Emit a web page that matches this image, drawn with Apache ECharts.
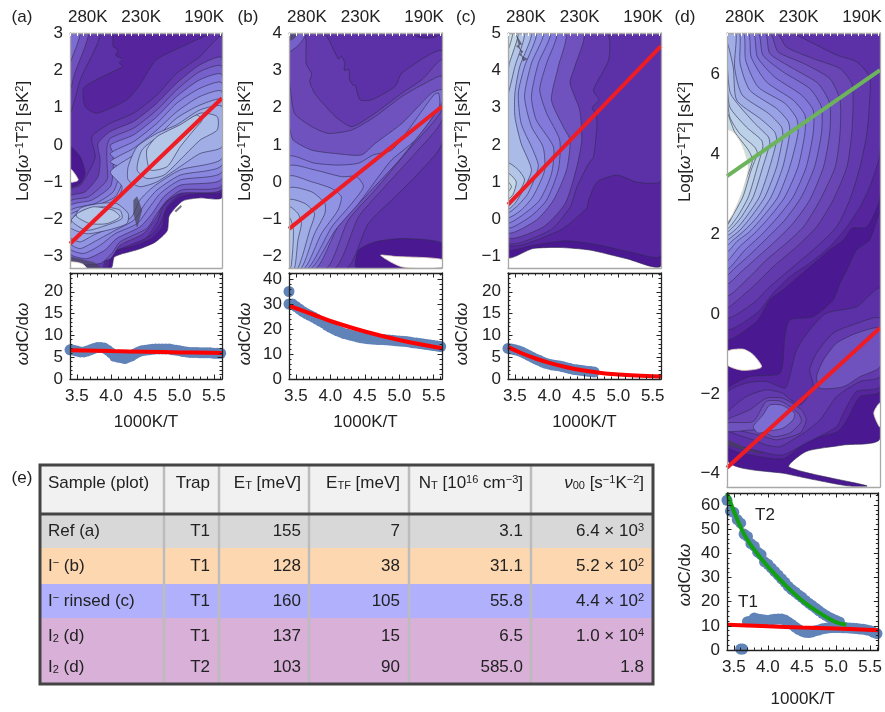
<!DOCTYPE html>
<html><head><meta charset="utf-8"><style>html,body{margin:0;padding:0;background:#fff}#c{width:885px;height:712px}</style>
<script src="https://cdn.jsdelivr.net/npm/echarts@6/dist/echarts.min.js"></script></head><body><div id="c"></div>
<script>
// ---------- contour regions, in axis units (1000K/T, Log) ----------
const aContours=[
[[3.4,3],[5.62,3],[5.62,-1.4],[5.3,-1.42],[5.05,-1.5],[4.85,-1.9],[4.82,-2.3],[4.65,-2.6],[4.4,-2.8],[4.05,-3.0],[4.0,-3.3],[3.4,-3.3]],
[[3.4,3],[5.62,3],[5.62,-1.25],[5.3,-1.3],[5.0,-1.4],[4.8,-1.75],[4.75,-2.2],[4.6,-2.5],[4.35,-2.7],[4.0,-2.9],[3.95,-3.3],[3.4,-3.3]],
[[3.4,3],[4.01,3],[4.03,2.64],[4.1,2.55],[4.07,2.4],[4.17,2.3],[4.12,2.2],[4.17,2.1],[3.83,1.79],[3.6,1.52],[3.62,1.03],[3.79,.85],[4.23,1.21],[4.42,1.61],[4.66,2.28],[5.1,2.69],[5.49,3],[5.62,3],[5.62,-1.15],[5.3,-1.2],[5.03,-1.3],[4.82,-1.65],[4.72,-2.1],[4.58,-2.42],[4.33,-2.62],[3.97,-2.8],[3.9,-3.3],[3.4,-3.3]],
[[3.4,3],[3.84,3],[3.55,1.75],[3.47,1.21],[3.4,.85]],
[[3.4,3],[3.67,3],[3.47,1.92],[3.4,1.48]],
[[3.4,3],[3.55,3],[3.42,2.28],[3.4,2.2]],
[[5.62,2.91],[5.3,2.37],[4.96,1.92],[4.67,1.34],[4.33,.85],[3.99,.58],[3.72,.22],[3.77,-.32],[3.69,-.67],[3.55,-1.08],[3.4,-1.21],[3.4,-3.3],[3.87,-3.3],[3.94,-2.95],[4.28,-2.68],[4.52,-2.48],[4.68,-2.05],[4.78,-1.6],[5.03,-1.27],[5.3,-1.18],[5.62,-1.12]],
[[5.62,2.33],[5.3,2.15],[4.96,1.66],[4.67,1.12],[4.33,.63],[3.99,.36],[3.81,.04],[3.84,-.4],[3.81,-.85],[3.62,-1.26],[3.4,-1.39],[3.4,-3.0],[3.75,-3.15],[3.99,-3.05],[4.13,-2.69],[4.47,-2.38],[4.67,-1.93],[4.77,-1.57],[5.01,-1.3],[5.62,-1.17]],
[[5.62,2.1],[5.3,1.97],[4.96,1.48],[4.67,.94],[4.33,.45],[3.99,.18],[3.94,-.05],[3.94,-.49],[3.94,-.94],[3.67,-1.39],[3.4,-1.52],[3.4,-3.14],[3.84,-3.18],[4.01,-2.91],[4.13,-2.6],[4.52,-2.24],[4.67,-1.84],[4.82,-1.48],[5.03,-1.21],[5.62,-1.08]],
[[5.62,1.88],[5.3,1.75],[4.96,1.3],[4.67,.76],[4.33,.27],[3.99,0],[4.03,-.23],[4.03,-.67],[3.99,-1.12],[3.72,-1.48],[3.4,-1.64],[3.4,-2.91],[3.64,-3.05],[3.91,-2.82],[4.08,-2.51],[4.42,-2.2],[4.6,-1.84],[4.77,-1.39],[5.01,-1.08],[5.62,-.9]],
[[5.62,1.66],[5.3,1.52],[4.96,1.12],[4.67,.58],[4.33,.09],[3.99,-.23],[4.11,-.49],[4.11,-.85],[4.03,-1.26],[3.77,-1.57],[3.4,-1.77],[3.4,-2.78],[3.6,-2.91],[3.84,-2.69],[4.06,-2.38],[4.38,-2.11],[4.55,-1.7],[4.72,-1.3],[5.01,-.94],[5.62,-.72]],
[[5.62,1.43],[5.3,1.3],[4.96,.89],[4.67,.4],[4.33,-.09],[3.99,-.45],[4.18,-.67],[4.16,-1.03],[4.06,-1.39],[3.81,-1.61],[3.4,-1.88],[3.4,-2.64],[3.55,-2.78],[3.79,-2.56],[4.06,-2.29],[4.33,-2.02],[4.5,-1.57],[4.67,-1.21],[5.01,-.81],[5.62,-.54]],
[[5.62,1.21],[5.3,1.07],[4.96,.72],[4.67,.22],[4.33,-.27],[3.99,-.72],[4.16,-1.12],[4.08,-1.48],[3.84,-1.66],[3.4,-2.02],[3.4,-2.47],[3.55,-2.6],[3.74,-2.42],[4.08,-2.15],[4.3,-1.93],[4.42,-1.48],[4.62,-1.12],[5.01,-.67],[5.62,-.36]],
[[5.62,1.03],[5.3,.94],[4.96,.54],[4.67,.31],[4.38,-.05],[4.25,-.58],[4.25,-.94],[4.42,-1.12],[4.67,-.99],[5.01,-.58],[5.3,-.23],[5.62,-.05]],
[[3.4,-2.2],[3.55,-1.7],[3.84,-1.57],[4.08,-1.57],[4.25,-1.84],[4.23,-2.11],[3.94,-2.29],[3.64,-2.38]],
[[5.55,.76],[5.3,.85],[4.96,.45],[4.69,.22],[4.45,-.14],[4.38,-.67],[4.52,-.9],[4.77,-.81],[5.03,-.36],[5.3,.13],[5.55,.4]],
[[3.42,-2.02],[3.6,-1.75],[3.89,-1.66],[4.13,-1.75],[4.16,-1.97],[3.94,-2.15],[3.64,-2.29]],
[[5.33,.67],[5.25,.8],[5.01,.54],[4.67,.22],[4.52,-.14],[4.57,-.67],[4.82,-.58],[5.01,-.05],[5.21,.4]],
[[3.5,-1.84],[3.74,-1.66],[4.03,-1.75],[4.13,-1.93],[3.94,-2.11],[3.69,-2.11],[3.5,-1.93]],
[[3.4,-.05],[3.55,-.32],[3.62,-.76],[3.55,-1.03],[3.4,-1.12]]
];
const aLevels=[0,1,2,3,5,7,3,5,6,8,9,10,11,12,12,13,13,14,14,0];
const aHoles=[[[3.4,-.63],[3.52,-.94],[3.4,-.99]],[[3.4,-3.14],[3.57,-3.18],[3.64,-3.3],[3.4,-3.3]]];
const aStreaks=[[[4.33,-1.48],[4.38,-1.39],[4.45,-1.75],[4.38,-2.2],[4.33,-1.84]],[[3.4,-3.0],[3.75,-3.15],[3.85,-3.3],[3.64,-3.3],[3.57,-3.18],[3.4,-3.14]],[[4.93,-1.77],[5.02,-1.62],[5.03,-1.66],[4.95,-1.8]]];

const bContours=[
[[3.4,4],[5.62,4],[5.62,-2.3],[3.4,-2.3]],
[[3.4,4],[3.9,4],[4.07,3.46],[4.12,3.3],[4.16,3.38],[4.21,3.19],[4.2,3.0],[4.27,3.02],[4.28,2.75],[4.33,2.6],[4.36,2.6],[4.43,2.21],[4.6,2.21],[4.94,2.57],[5.04,2.93],[5.62,3.51],[5.62,1.04],[5.28,.24],[4.94,-.39],[4.55,-1.11],[4.24,-2.3],[3.4,-2.3]],
[[3.4,4],[3.63,4],[3.65,3.17],[3.73,2.9],[3.7,2.7],[3.77,2.39],[3.85,2.2],[3.9,2.1],[4.07,1.76],[4.31,1.49],[4.65,1.85],[5.04,2.39],[5.33,2.75],[5.62,3.28],[5.62,1.67],[5.23,.77],[4.79,-.12],[4.41,-.93],[4.07,-2.3],[3.4,-2.3]],
[[3.4,2.75],[3.48,1.85],[3.73,1.49],[3.97,1.31],[4.31,1.4],[4.65,1.76],[5.04,2.3],[5.38,2.66],[5.62,2.84],[5.62,1.94],[5.13,.86],[4.65,-.21],[4.26,-1.02],[3.95,-2.3],[3.4,-2.3]],
[[3.4,1.49],[3.46,1.13],[3.73,.86],[4.07,.77],[4.45,.73],[4.65,1.04],[5.04,1.58],[5.47,2.39],[5.62,2.48],[5.62,2.12],[5.04,.68],[4.55,-.3],[4.11,-1.2],[3.8,-2.3],[3.4,-2.3]],
[[3.4,.68],[3.77,.51],[4.11,.46],[4.41,.51],[4.62,.73],[4.89,.86],[5.13,1.4],[5.5,2.34],[5.57,2.39],[5.58,2.03],[5.23,1.13],[4.89,.6],[4.7,.15],[4.41,-.57],[4.07,-1.29],[3.73,-2.3],[3.4,-2.3]],
[[3.4,.42],[3.77,.33],[4.16,.15],[4.38,.15],[4.48,-.12],[4.31,-.57],[4.02,-1.2],[3.68,-2.3],[3.4,-2.3]],
[[3.4,.15],[3.73,.01],[4.02,-.17],[4.16,-.39],[4.11,-.75],[3.87,-1.38],[3.63,-2.3],[3.4,-2.3]],
[[3.4,-.17],[3.73,-.26],[3.92,-.57],[3.92,-.84],[3.77,-1.38],[3.58,-2.3],[3.4,-2.3]],
[[3.4,-.48],[3.63,-.57],[3.77,-.84],[3.7,-1.29],[3.53,-2.3],[3.4,-2.3]],
[[3.4,-.66],[3.53,-.84],[3.58,-1.11],[3.53,-1.55],[3.48,-2.3],[3.4,-2.3]],
[[3.4,-.93],[3.46,-1.2],[3.46,-1.64],[3.43,-2.27],[3.4,-2.3]],
[[3.4,4],[3.65,4],[3.55,3.7],[3.4,3.5]],
[[5.18,4],[5.3,3.88],[5.5,3.88],[5.62,4]],
[[4.38,-2.3],[4.41,-1.82],[4.65,-1.6],[5.04,-1.51],[5.62,-1.64],[5.62,-2.3]]
];
const bLevels=[2,3,4,5,7,8,9,10,11,12,13,14,6,1,0];
const bHoles=[[[4.73,-1.96],[4.94,-1.99],[5.62,-2.07],[5.62,-2.28],[5.04,-2.27]]];
const bStreaks=[[[3.4,4],[3.55,4],[3.47,3.85],[3.4,3.78]]];

const cContours=[
[[3.4,5],[5.62,5],[5.62,-1.23],[5.12,-1.05],[4.59,-.82],[4.15,-.75],[3.76,-.78],[3.4,-1.0]],
[[3.4,5],[5.62,5],[5.62,-.96],[5.17,-.87],[4.74,-.69],[4.25,-.57],[3.76,-.69],[3.4,-.78]],
[[3.4,5],[5.62,5],[5.62,1.04],[5.27,1.0],[4.98,1.19],[4.69,1.0],[4.57,.52],[4.54,.3],[4.15,-.29],[3.4,-.65]],
[[3.4,5],[4.83,5],[4.86,4.28],[4.64,3.47],[4.72,3.2],[4.62,3.0],[4.68,2.8],[4.69,2.49],[4.64,1.68],[4.57,1.5],[4.4,.87],[4.3,.33],[4.01,-.29],[3.4,-.6]],
[[3.4,5],[4.49,5],[4.37,4.1],[4.3,3.66],[4.44,2.94],[4.47,2.13],[4.4,1.42],[4.23,.43],[3.91,-.2],[3.4,-.46]],
[[3.4,5],[4.23,5],[4.13,4.1],[4.03,3.21],[4.2,2.49],[4.3,2.13],[4.25,1.33],[4.06,.52],[3.81,-.02],[3.4,-.33]],
[[3.4,5],[4.1,5],[3.96,4.19],[3.86,3.48],[3.96,2.85],[4.15,2.13],[4.13,1.33],[3.96,.52],[3.72,.07],[3.4,-.2]],
[[3.4,5],[4.01,5],[3.84,4.19],[3.74,3.3],[3.81,2.67],[4.06,1.94],[4.03,1.22],[3.86,.52],[3.64,.16],[3.4,-.07]],
[[3.4,5],[3.91,5],[3.74,4.19],[3.64,3.3],[3.74,2.49],[3.91,1.94],[3.93,1.31],[3.76,.61],[3.59,.25],[3.4,.07]],
[[3.4,5],[3.81,5],[3.64,4.1],[3.55,3.39],[3.59,2.58],[3.76,1.87],[3.84,1.42],[3.69,.7],[3.55,.39],[3.4,.2]],
[[3.4,5],[3.74,5],[3.57,4.1],[3.5,3.39],[3.5,2.76],[3.59,2.04],[3.74,1.33],[3.62,.79],[3.5,.43],[3.4,.29]],
[[3.4,5],[3.64,5],[3.5,4.1],[3.4,3.39]],
[[3.4,1.51],[3.55,1.33],[3.64,1.06],[3.55,.7],[3.45,.48],[3.4,.34]],
[[3.4,5],[3.55,5],[3.42,4.19],[3.4,4.01]],
[[3.4,1.24],[3.52,1.01],[3.47,.66],[3.4,.56]],
[[3.4,5],[3.47,5],[3.4,4.55]],
[[3.4,1.01],[3.45,.88],[3.4,.74]]
];
const cLevels=[0,1,2,3,5,7,8,9,10,11,13,14,14,16,16,17,17];
const cHoles=[];
const cStreaks=[[[3.52,4.95],[3.6,4.7],[3.52,4.65],[3.62,4.5],[3.56,4.42],[3.68,4.3],[3.62,4.25]]];

const dContours=[
[[3.4,7.03],[5.62,7.03],[5.62,-3.11],[5.09,-3.28],[4.55,-3.44],[4.3,-3.83],[5.43,-4.3],[5.14,-4.3],[4.26,-4.0],[3.4,-3.63]],
[[3.4,-1.9],[3.73,-1.57],[4.17,-1.48],[4.24,-.57],[4.31,-.15],[4.65,-.07],[4.94,.35],[5.04,.77],[5.14,1.1],[5.28,1.6],[5.47,1.85],[5.62,2.52],[5.62,-1.94],[5.33,-2.07],[5.14,-2.65],[5.01,-2.94],[4.6,-3.15],[4.24,-3.61],[4.02,-3.61],[3.4,-3.32]],
[[3.4,-1.98],[3.68,-1.73],[3.97,-1.69],[4.24,-1.86],[4.29,-1.69],[4.41,-.9],[4.6,-.4],[4.84,.02],[5.28,.18],[5.62,.64],[5.62,-1.82],[5.28,-1.94],[5.09,-2.48],[4.99,-2.82],[4.55,-3.23],[4.21,-3.53],[3.97,-3.48],[3.4,-3.15]],
[[3.4,-2.48],[3.68,-2.07],[3.97,-1.9],[4.21,-1.98],[4.24,-2.03],[4.46,-2.28],[4.65,-1.82],[4.6,-1.4],[4.7,-.98],[4.94,-.48],[5.23,-.27],[5.62,-.11],[5.62,-1.57],[5.33,-1.69],[4.99,-2.07],[4.75,-2.65],[4.51,-2.98],[4.17,-3.32],[3.97,-3.28],[3.78,-3.15],[3.4,-2.9]],
[[5.62,-.36],[5.28,-.48],[4.99,-.73],[4.8,-1.15],[4.7,-1.57],[4.75,-1.86],[5.09,-1.82],[5.33,-1.57],[5.62,-1.32]],
[[3.4,-2.65],[3.73,-2.4],[3.97,-2.11],[4.21,-2.11],[4.48,-2.4],[4.55,-2.65],[4.46,-2.98],[4.12,-3.15],[3.95,-3.07],[3.4,-2.82]],
[[3.4,-2.73],[3.78,-2.69],[3.97,-2.19],[4.19,-2.19],[4.43,-2.48],[4.48,-2.69],[4.31,-2.98],[4.07,-3.07],[3.88,-2.9],[3.4,-2.94]],
[[3.78,-2.82],[3.92,-2.53],[4.02,-2.28],[4.19,-2.28],[4.38,-2.48],[4.36,-2.65],[4.21,-2.86],[3.97,-2.94],[3.85,-2.98]],
[[3.4,7.03],[5.62,7.03],[5.62,2.93],[5.43,2.18],[5.21,2.14],[5.09,1.85],[4.89,1.6],[4.55,1.1],[4.21,.6],[4.02,.35],[3.83,-.19],[3.4,-.61]],
[[3.4,7.03],[5.62,7.03],[5.62,4.02],[5.47,3.18],[5.33,2.68],[5.14,2.18],[4.89,1.68],[4.6,1.27],[4.31,.93],[4.07,.52],[3.83,.02],[3.4,-.36]],
[[3.4,7.03],[4.31,7.03],[4.65,6.77],[4.99,6.48],[5.28,6.31],[5.47,5.93],[5.47,5.35],[5.43,4.52],[5.33,3.68],[5.18,2.85],[4.99,2.18],[4.7,1.68],[4.36,1.18],[4.02,.68],[3.78,.27],[3.4,-.07]],
[[3.4,7.03],[4.12,7.03],[4.26,6.68],[4.65,6.39],[5.04,6.14],[5.21,5.77],[5.23,5.35],[5.21,4.52],[5.14,3.68],[4.94,2.85],[4.7,2.18],[4.41,1.68],[4.07,1.18],[3.83,.77],[3.61,.43],[3.4,.18]],
[[3.4,7.03],[4.02,7.03],[4.14,6.56],[4.51,6.27],[4.89,5.89],[5.04,5.35],[5.04,4.52],[4.97,3.68],[4.75,2.85],[4.51,2.18],[4.26,1.77],[3.97,1.35],[3.73,.93],[3.4,.48]],
[[3.4,7.03],[3.95,7.03],[4.02,6.52],[4.36,6.14],[4.72,5.77],[4.89,5.27],[4.89,4.52],[4.8,3.68],[4.6,2.85],[4.36,2.27],[4.12,1.85],[3.85,1.43],[3.61,1.06],[3.4,.77]],
[[3.4,7.03],[3.85,7.03],[3.92,6.48],[4.21,6.06],[4.6,5.64],[4.77,5.18],[4.77,4.52],[4.67,3.68],[4.48,2.93],[4.24,2.35],[4.0,1.93],[3.73,1.48],[3.51,1.14],[3.4,.98]],
[[3.4,7.03],[3.78,7.03],[3.84,6.43],[4.09,5.93],[4.48,5.48],[4.65,5.1],[4.65,4.52],[4.55,3.68],[4.36,2.93],[4.14,2.43],[3.9,1.98],[3.66,1.6],[3.4,1.14]],
[[3.4,7.03],[3.71,7.03],[3.75,6.43],[3.97,5.81],[4.36,5.35],[4.53,4.98],[4.53,4.52],[4.43,3.68],[4.24,2.93],[4.02,2.43],[3.8,2.02],[3.58,1.68],[3.4,1.35]],
[[3.4,7.03],[3.64,7.03],[3.67,6.35],[3.85,5.68],[4.24,5.27],[4.41,4.89],[4.43,4.52],[4.31,3.68],[4.14,2.93],[3.92,2.43],[3.73,2.06],[3.54,1.81],[3.4,1.56]],
[[3.4,7.03],[3.58,7.03],[3.59,6.27],[3.73,5.6],[4.12,5.14],[4.29,4.81],[4.31,4.52],[4.21,3.68],[4.04,2.93],[3.84,2.43],[3.66,2.1],[3.49,1.85],[3.4,1.73]],
[[3.4,7.03],[3.53,7.03],[3.51,6.18],[3.62,5.48],[4.0,5.02],[4.19,4.68],[4.21,4.43],[4.12,3.68],[3.95,2.93],[3.75,2.43],[3.59,2.1],[3.44,1.89],[3.4,1.85]],
[[3.4,6.77],[3.49,6.18],[3.54,5.35],[3.88,4.89],[4.09,4.56],[4.12,4.35],[4.02,3.68],[3.87,2.93],[3.68,2.43],[3.54,2.14],[3.4,1.98]],
[[3.4,6.35],[3.45,5.52],[3.78,4.81],[4.0,4.43],[4.02,4.27],[3.92,3.68],[3.78,2.93],[3.61,2.43],[3.49,2.18],[3.4,2.06]],
[[3.4,5.85],[3.44,5.18],[3.68,4.68],[3.9,4.35],[3.92,4.18],[3.84,3.68],[3.71,2.93],[3.55,2.43],[3.4,2.14]],
[[3.4,5.43],[3.44,4.93],[3.58,4.52],[3.8,4.18],[3.84,4.02],[3.75,3.6],[3.63,2.93],[3.49,2.48],[3.4,2.23]],
[[3.4,5.02],[3.51,4.56],[3.71,4.1],[3.77,3.85],[3.69,3.43],[3.56,2.85],[3.4,2.27]]
];
const dLevels=[0,1,2,3,5,4,5,7,1,2,3,4,5,6,7,8,9,10,11,12,13,14,15,16,17];
const dHoles=[[[3.4,4.6],[3.51,4.52],[3.63,4.18],[3.71,3.68],[3.63,3.1],[3.49,2.52],[3.4,2.31]],[[3.4,-.94],[3.63,-.88],[3.78,-1.02],[3.9,-1.33],[3.63,-1.41],[3.4,-1.27]],[[5.62,-2.23],[5.53,-2.48],[5.62,-2.83]]];
const dStreaks=[[[3.4,-3.15],[3.68,-3.36],[3.92,-3.5],[3.73,-3.44],[3.4,-3.28]]];

// ---------- fitted lines ----------
const aFit=[[3.4,-2.65],[5.62,1.25]];
const bFit=[[3.4,-1.25],[5.62,2.03]];
const cFit=[[3.4,.4],[5.62,4.65]];
const dFitT1=[[3.4,-3.85],[5.62,-.35]];
const dFitT2=[[3.4,3.45],[5.62,6.1]];

// ---------- lower panels ----------
const tempAxis=[3.40,3.45,3.50,3.55,3.60,3.65,3.70,3.75,3.80,3.85,3.90,3.95,4.00,4.05,4.10,4.15,4.20,4.25,4.30,4.35,4.40,4.45,4.50,4.55,4.60,4.65,4.70,4.75,4.80,4.85,4.90,4.95,5.00,5.05,5.10,5.15,5.20,5.25,5.30,5.35,5.40,5.45,5.50,5.55,5.60];
const aDensity=[6.7,6.6,6.4,6.2,6.2,6.4,6.7,7,7.2,7.2,7.1,6.6,6,5.2,5,4.9,4.7,5,5.3,5.8,6.2,6.5,6.6,6.7,6.8,6.9,6.9,6.9,6.9,6.9,6.7,6.6,6.5,6.3,6.2,6.1,6.1,6.1,6,6,6,6,5.9,5.9,5.9];
const bDensity=[30,30,29,28,27,26.2,25.5,24.8,24,23.2,22.5,21.5,20.7,20,19.3,18.8,18.2,17.9,17.5,17.2,16.8,16.5,16.3,16.1,16,15.9,15.8,15.8,15.7,15.6,15.5,15.3,15.2,15.1,15,14.8,14.5,14.4,14.2,14,13.8,13.6,13.4,13.2,13];
const cDensity=[7,6.9,6.7,6.5,6.2,5.8,5.4,5,4.6,4.3,3.9,3.6,3.4,3.2,3.1,3,2.8,2.6,2.4,2.2,2.1,2,1.9,1.8,1.7,1.6];
const dDensityT2=[62,57.5,57,54,52.5,48,47,44,43,40.5,39.5,36.5,35.5,34,32.5,31,29.5,28,26.3,25,24,22.8,21.8,20.5,19.4,18.4,17.3,16.2,15.2,14.3,13.5,12.8,12.2,11.6];
const dTempT1=[3.60,3.63,3.70,3.75,3.80,3.85,3.90,3.95,4.00,4.05,4.10,4.15,4.20,4.25,4.30,4.35,4.40,4.45,4.50,4.55,4.60,4.65,4.70,4.75,4.80,4.85,4.90,4.95,5.00,5.05,5.10,5.15,5.20,5.25,5.30,5.35,5.40,5.45,5.50,5.55,5.60];
const dDensityT1=[.4,.4,11.7,12,13.2,12.8,12.6,12.4,12.2,12.5,12.7,12.8,12.8,12.4,11.5,10.6,9.5,8.5,7.8,7.3,7.2,7.5,8,8.3,8.8,9,9.2,9.3,9.3,9.3,9.2,9.2,9.1,9,8.9,8.7,8.6,8.3,8,7.3,6.8];
const bOutlier=[[3.4,35]];
const aDensityFit=[[3.4,6.6],[4,6.4],[4.5,6.25],[5,6.1],[5.62,5.95]];
const bDensityFit=[[3.4,29.3],[3.75,25.8],[4,23.2],[4.5,19],[5,15.6],[5.62,12.3]];
const cDensityFit=[[3.4,7.3],[3.6,5.9],[3.8,4.7],[4,3.7],[4.25,2.7],[4.5,1.95],[4.75,1.4],[5,1.05],[5.25,.8],[5.62,.55]];
const dDensityFitT1=[[3.4,10.5],[4,9.8],[4.5,9.3],[5,8.9],[5.62,8.2]];
const dDensityFitT2=[[3.4,65],[3.5,57.5],[3.65,48],[3.8,41.5],[4,34.5],[4.25,27],[4.5,20.5],[4.75,15.5],[5,11.5],[5.15,10.5]];

// ---------- table ----------
const tableHeaders=['Sample (plot)','Trap','E{sub|T} [meV]','E{sub|TF} [meV]','N{sub|T} [10{sup|16} cm{sup|−3}]','{it|ν}{sub|00} [s{sup|−1}K{sup|−2}]'];
const sampleNames=['Ref (a)','I{sup|−} (b)','I{sup|−} rinsed (c)','I{sub|2} (d)','I{sub|2} (d)'];
const trapNames=['T1','T1','T1','T1','T2'];
const energyT=['155','128','160','137','103'];
const energyTF=['7','38','105','15','90'];
const densityNT=['3.1','31.1','55.8','6.5','585.0'];
const prefactor=['6.4 × 10{sup|3}','5.2 × 10{sup|2}','4.4 × 10{sup|2}','1.0 × 10{sup|4}','1.8'];

// ---------- ticks ----------
const xMajor=[3.5,4,4.5,5,5.5];
const xMinor=[3.4,3.5,3.6,3.7,3.8,3.9,4,4.1,4.2,4.3,4.4,4.5,4.6,4.7,4.8,4.9,5,5.1,5.2,5.3,5.4,5.5,5.6];
const tempTicks=[3.66,4.44,5.36];
const tempLabels=['280K','230K','190K'];
const FONT='"Liberation Sans",Arial,sans-serif';
const FS=17, INK='#222';
const palette=['#4a1890','#56259e','#5c30a6','#633aad','#6a46b5','#7052bf','#7660c9','#7c6dd3','#8279da','#8986df','#9094e2','#98a2e4','#a1aee6','#aabbe7','#b3c6e7','#bcd0e7','#c4d8e6','#cbdee5'];
const XR=[3.4,5.62];
const uppers=[
 {l:70,w:152,yr:[-3.3,3],ticks:[-3,-2,-1,0,1,2,3],polys:aContours,lv:aLevels,holes:aHoles,streak:aStreaks,fits:[[aFit,'#ee1c25']]},
 {l:289,w:153,yr:[-2.3,4],ticks:[-2,-1,0,1,2,3,4],polys:bContours,lv:bLevels,holes:bHoles,streak:bStreaks,fits:[[bFit,'#ee1c25']]},
 {l:508,w:153,yr:[-1.3,5],ticks:[-1,0,1,2,3,4,5],polys:cContours,lv:cLevels,holes:cHoles,streak:cStreaks,fits:[[cFit,'#ee1c25']]},
 {l:727,w:153,h:454,yr:[-4.33,7.03],ticks:[-4,-2,0,2,4,6],polys:dContours,lv:dLevels,holes:dHoles,streak:dStreaks,fits:[[dFitT1,'#ee1c25'],[dFitT2,'#6cb35c']]}
];
const pair=(xs,ys)=>ys.map((y,i)=>[xs[i],y]);
const lowers=[
 {l:70,w:152,t:273,h:106,top:24.3,maj:[0,5,10,15,20],min:[0,1,2,3,4,5,6,7,8,9,10,11,12,13,14,15,16,17,18,19,20,21,22,23,24],gap:35,pts:[pair(tempAxis,aDensity)],fits:[[aDensityFit,'#ff0000']]},
 {l:289,w:153,t:273,h:106,top:42.4,maj:[0,10,20,30,40],min:[0,2,4,6,8,10,12,14,16,18,20,22,24,26,28,30,32,34,36,38,40,42],gap:35,pts:[pair(tempAxis,bDensity),bOutlier],fits:[[bDensityFit,'#ff0000']]},
 {l:508,w:153,t:273,h:106,top:24.3,maj:[0,5,10,15,20],min:[0,1,2,3,4,5,6,7,8,9,10,11,12,13,14,15,16,17,18,19,20,21,22,23,24],gap:35,pts:[pair(tempAxis,cDensity)],fits:[[cDensityFit,'#ff0000']]},
 {l:727,w:153,t:493,h:157,top:65,maj:[0,10,20,30,40,50,60],min:[0,2,4,6,8,10,12,14,16,18,20,22,24,26,28,30,32,34,36,38,40,42,44,46,48,50,52,54,56,58,60,62,64],gap:41,pts:[pair(tempAxis,dDensityT2),pair(dTempT1,dDensityT1)],fits:[[dDensityFitT1,'#ff0000'],[dDensityFitT2,'#12a012']]}
];
const grid=[],xAxis=[],yAxis=[],series=[];
const rich={
 sup:{fontSize:11,fontFamily:FONT,fill:INK,color:INK,padding:[0,0,7,0]},
 sub:{fontSize:11,fontFamily:FONT,fill:INK,color:INK,padding:[6,0,0,0]},
 it:{fontSize:FS,fontFamily:FONT,fontStyle:'italic',fill:INK,color:INK}
};
function addAxis(arr,o){arr.push(Object.assign({type:'value',z:6,splitLine:{show:false},axisLine:{show:false,onZero:false},axisTick:{show:false},axisLabel:{show:false}},o));return arr.length-1;}
const lab=(vals,fmt,margin)=>({show:true,customValues:vals,formatter:fmt,margin:margin,fontSize:FS,fontFamily:FONT,color:INK,hideOverlap:false,showMinLabel:true,showMaxLabel:true});
const yFmt=v=>String(v).replace('-','−');
// upper panels
uppers.forEach((p,n)=>{
 const g=grid.length; grid.push({left:p.l,top:33,width:p.w,height:p.h||235,containLabel:false});
 const frame={show:true,onZero:false,lineStyle:{color:'#a8a8a8',width:1.3}};
 const xb=addAxis(xAxis,{gridIndex:g,position:'bottom',min:XR[0],max:XR[1],axisLine:frame});
 const xt=addAxis(xAxis,{gridIndex:g,position:'top',min:XR[0],max:XR[1],axisLine:frame,
   axisTick:{show:true,inside:true,length:3,customValues:xMinor,lineStyle:{color:'#ffffff',width:1}},
   axisLabel:lab(tempTicks,v=>tempLabels[tempTicks.indexOf(v)]||'',7)});
 const yl=addAxis(yAxis,{gridIndex:g,position:'left',min:p.yr[0],max:p.yr[1],axisLine:frame,axisLabel:lab(p.ticks,yFmt,7)});
 addAxis(yAxis,{gridIndex:g,position:'right',min:p.yr[0],max:p.yr[1],axisLine:frame});
 const polyStyle=(fill,stroke,w)=>({fill:fill,stroke:stroke,lineWidth:w});
 series.push({type:'custom',xAxisIndex:xb,yAxisIndex:yl,clip:true,z:1,silent:true,animation:false,
   data:p.polys.map((_,i)=>[i,p.lv[i]]),
   encode:{x:-1,y:-1},
   renderItem:(params,api)=>{const i=api.value(0);return {type:'polygon',shape:{points:p.polys[i].map(c=>api.coord(c)),smooth:0.22},style:polyStyle(palette[api.value(1)],'rgba(48,42,80,0.72)',0.85)};}});
 series.push({type:'custom',xAxisIndex:xb,yAxisIndex:yl,clip:true,z:2,silent:true,animation:false,
   data:p.streak.map((_,i)=>[i]),encode:{x:-1,y:-1},
   renderItem:(params,api)=>({type:'polygon',shape:{points:p.streak[api.value(0)].map(c=>api.coord(c))},style:polyStyle('rgba(70,66,90,0.72)','rgba(60,60,70,0.5)',0.6)})});
 series.push({type:'custom',xAxisIndex:xb,yAxisIndex:yl,clip:true,z:3,silent:true,animation:false,
   data:p.holes.map((_,i)=>[i]),encode:{x:-1,y:-1},
   renderItem:(params,api)=>({type:'polygon',shape:{points:p.holes[api.value(0)].map(c=>api.coord(c)),smooth:0.25},style:polyStyle('#ffffff','rgba(225,215,190,0.8)',1)})});
 p.fits.forEach(f=>series.push({type:'line',xAxisIndex:xb,yAxisIndex:yl,data:f[0],showSymbol:false,symbol:'none',z:4,silent:true,animation:false,lineStyle:{color:f[1],width:4,cap:'butt'}}));
});
// lower panels
lowers.forEach(p=>{
 const g=grid.length; grid.push({left:p.l,top:p.t,width:p.w,height:p.h});
 const frame={show:true,onZero:false,lineStyle:{color:'#222',width:1.3}};
 const tick=(vals,len)=>({show:true,inside:true,length:len,customValues:vals,lineStyle:{color:'#222',width:1}});
 const xb=addAxis(xAxis,{gridIndex:g,position:'bottom',min:XR[0],max:XR[1],axisLine:frame,axisTick:tick(xMajor,4.5),
   axisLabel:lab(xMajor,v=>v.toFixed(1),9),name:'1000K/T',nameLocation:'middle',nameGap:p.gap,nameTextStyle:{fontSize:FS,fontFamily:FONT,color:INK}});
 addAxis(xAxis,{gridIndex:g,position:'bottom',min:XR[0],max:XR[1],axisTick:tick(xMinor,2.5)});
 addAxis(xAxis,{gridIndex:g,position:'top',min:XR[0],max:XR[1],axisLine:frame,axisTick:tick(xMajor,4.5)});
 addAxis(xAxis,{gridIndex:g,position:'top',min:XR[0],max:XR[1],axisTick:tick(xMinor,2.5)});
 const yl=addAxis(yAxis,{gridIndex:g,position:'left',min:0,max:p.top,axisLine:frame,axisTick:tick(p.maj,4.5),axisLabel:lab(p.maj,yFmt,7)});
 addAxis(yAxis,{gridIndex:g,position:'left',min:0,max:p.top,axisTick:tick(p.min,2.5)});
 addAxis(yAxis,{gridIndex:g,position:'right',min:0,max:p.top,axisLine:frame,axisTick:tick(p.maj,4.5)});
 addAxis(yAxis,{gridIndex:g,position:'right',min:0,max:p.top,axisTick:tick(p.min,2.5)});
 p.pts.forEach(d=>series.push({type:'scatter',xAxisIndex:xb,yAxisIndex:yl,data:d,symbolSize:11,clip:false,z:3,silent:true,animation:false,itemStyle:{color:'#6083b8',opacity:1}}));
 p.fits.forEach(f=>series.push({type:'line',xAxisIndex:xb,yAxisIndex:yl,data:f[0],smooth:0.4,showSymbol:false,symbol:'none',z:4,silent:true,animation:false,lineStyle:{color:f[1],width:4,cap:'butt'}}));
});
// table (its own hidden axes, laid out by column and row edges)
const colEdges=[0,124,179,269,369,491,613];
const rowEdges=[0,49,83,119,153,219];
const rowFill=['#f1f1f1','#d8d8d8','#fdd7b0','#b0b0fd','#d8b0d8'];
const textRows=[18,66,101,136,171,202];
const colPad=[8,9,8,9,8,9];
const tg=grid.length; grid.push({left:40,top:465,width:613,height:219});
const tx=addAxis(xAxis,{gridIndex:tg,min:0,max:613,show:false});
const ty=addAxis(yAxis,{gridIndex:tg,min:0,max:219,inverse:true,show:false});
series.push({type:'custom',xAxisIndex:tx,yAxisIndex:ty,clip:false,z:1,silent:true,animation:false,data:rowFill.map((_,i)=>[i]),encode:{x:-1,y:-1},
 renderItem:(params,api)=>{const i=api.value(0);const a=api.coord([0,rowEdges[i]]),b=api.coord([613,rowEdges[i+1]]);return {type:'rect',shape:{x:a[0],y:a[1],width:b[0]-a[0],height:b[1]-a[1]},style:{fill:rowFill[i]}};}});
series.push({type:'custom',xAxisIndex:tx,yAxisIndex:ty,clip:false,z:2,silent:true,animation:false,data:colEdges.slice(1,-1).map((_,i)=>[i]),encode:{x:-1,y:-1},
 renderItem:(params,api)=>{const c=colEdges[api.value(0)+1];const a=api.coord([c,0]),b=api.coord([c,219]);return {type:'line',shape:{x1:a[0],y1:a[1],x2:b[0],y2:b[1]},style:{stroke:'#bcbcbc',lineWidth:2.5}};}});
series.push({type:'custom',xAxisIndex:tx,yAxisIndex:ty,clip:false,z:3,silent:true,animation:false,data:[[0]],encode:{x:-1,y:-1},
 renderItem:(params,api)=>{const a=api.coord([0,0]),b=api.coord([613,219]),h=api.coord([0,49]),h2=api.coord([613,49]);return {type:'group',children:[
  {type:'line',shape:{x1:h[0],y1:h[1],x2:h2[0],y2:h2[1]},style:{stroke:'#444',lineWidth:3}},
  {type:'rect',shape:{x:a[0],y:a[1],width:b[0]-a[0],height:b[1]-a[1]},style:{fill:'none',stroke:'#444',lineWidth:3}}]};}});
const tableCols=[sampleNames,trapNames,energyT,energyTF,densityNT,prefactor];
const cells=[];
tableHeaders.forEach((t,c)=>cells.push([c,0]));
tableCols.forEach((col,c)=>col.forEach((t,r)=>cells.push([c,r+1])));
series.push({type:'custom',xAxisIndex:tx,yAxisIndex:ty,clip:false,z:4,silent:true,animation:false,data:cells,encode:{x:-1,y:-1},
 renderItem:(params,api)=>{const c=api.value(0),r=api.value(1);
  const txt=r===0?tableHeaders[c]:tableCols[c][r-1];
  const left=c===0;
  const pos=api.coord([left?8:colEdges[c+1]-colPad[c],textRows[r]]);
  return {type:'text',style:{x:pos[0],y:pos[1],text:txt,rich:rich,fontSize:FS,fontFamily:FONT,fill:INK,align:left?'left':'right',verticalAlign:'middle',textAlign:left?'left':'right',textVerticalAlign:'middle'}};}});
// titles
const txt=(x,y,t,extra)=>Object.assign({type:'text',x:x,y:y,silent:true,z:20,style:{text:t,rich:rich,fontSize:FS,fontFamily:FONT,fill:INK,align:'center',verticalAlign:'middle'}},extra||{});
const yTitle='Log[{it|ω}{sup|−1}T{sup|2}] [sK{sup|2}]', dTitle='{it|ω}dC/d{it|ω}';
const graphic=[
 txt(22,17,'(a)'),txt(248,17,'(b)'),txt(466,17,'(c)'),txt(685,17,'(d)'),txt(22,478,'(e)'),
 txt(23,141,yTitle,{rotation:Math.PI/2}),txt(245,141,yTitle,{rotation:Math.PI/2}),txt(462,141,yTitle,{rotation:Math.PI/2}),txt(685,142,yTitle,{rotation:Math.PI/2}),
 txt(23,334,dTitle,{rotation:Math.PI/2}),txt(245,334,dTitle,{rotation:Math.PI/2}),txt(462,334,dTitle,{rotation:Math.PI/2}),txt(685,575,dTitle,{rotation:Math.PI/2}),
 txt(765,515,'T2'),txt(748,602,'T1')
];
const chart=echarts.init(document.getElementById('c'),null,{renderer:'canvas'});
chart.setOption({animation:false,backgroundColor:'#fff',grid,xAxis,yAxis,series,graphic:{elements:graphic}});
</script></body></html>
